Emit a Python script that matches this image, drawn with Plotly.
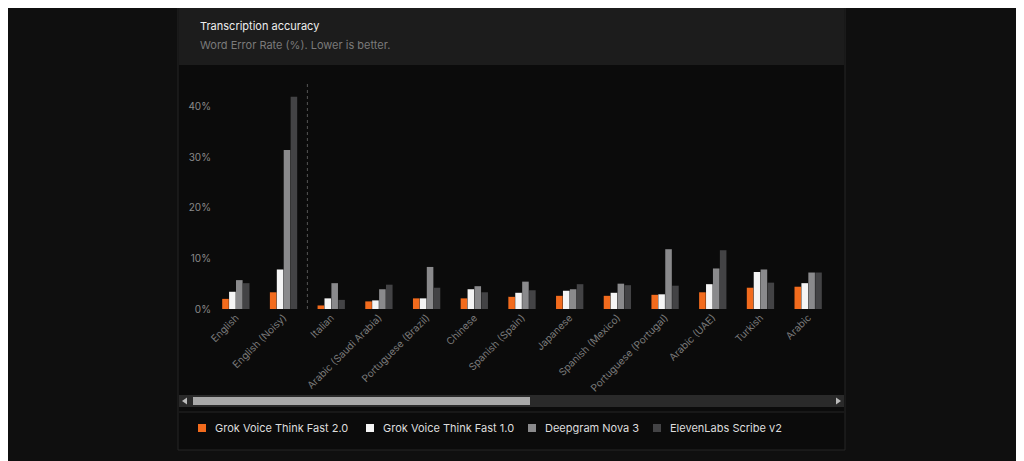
import plotly.graph_objects as go

languages = ["English", "English (Noisy)", "Italian", "Arabic (Saudi Arabia)", "Portuguese (Brazil)",
             "Chinese", "Spanish (Spain)", "Japanese", "Spanish (Mexico)", "Portuguese (Portugal)",
             "Arabic (UAE)", "Turkish", "Arabic"]
grok_fast_2 = [2.0, 3.3, 0.7, 1.5, 2.1, 2.1, 2.4, 2.6, 2.6, 2.8, 3.3, 4.2, 4.4]
grok_fast_1 = [3.4, 7.8, 2.1, 1.7, 2.1, 3.9, 3.2, 3.6, 3.2, 2.9, 4.9, 7.3, 5.1]
deepgram_nova_3 = [5.7, 31.4, 5.1, 3.9, 8.3, 4.5, 5.4, 3.9, 5.0, 11.8, 8.0, 7.8, 7.2]
elevenlabs_v2 = [5.1, 41.9, 1.8, 4.8, 4.2, 3.3, 3.7, 4.9, 4.7, 4.6, 11.6, 5.2, 7.2]
y_ticks = [0, 10, 20, 30, 40]

series = [
    ("Grok Voice Think Fast 2.0", grok_fast_2, "#f26b1d"),
    ("Grok Voice Think Fast 1.0", grok_fast_1, "#f5f5f5"),
    ("Deepgram Nova 3", deepgram_nova_3, "#8a8a8c"),
    ("ElevenLabs Scribe v2", elevenlabs_v2, "#434345"),
]

fig = go.Figure()
for name, vals, color in series:
    fig.add_trace(go.Bar(x=languages, y=vals, name=name, marker_color=color,
                         marker_line_width=0))

# the page has an 8px body margin, so work in window pixels shifted by 8
OFF = 8
W, H = 1024 - OFF, 461 - OFF
L, R, T, B = 212 - OFF, 192, 81 - OFF, 152
pw, ph = W - L - R, H - T - B


def px(x):
    return (x - OFF - L) / pw


def py(y):
    return (H - B - (y - OFF)) / ph


shapes = [
    dict(type="rect", xref="paper", yref="paper", x0=px(178), x1=px(845), y0=py(450), y1=py(5),
         fillcolor="#0b0b0b", line=dict(color="#262626", width=1), layer="below"),
    dict(type="rect", xref="paper", yref="paper", x0=px(179), x1=px(844), y0=py(65), y1=py(6),
         fillcolor="#1c1c1c", line_width=0, layer="below"),
    dict(type="line", xref="paper", yref="paper", x0=px(179), x1=px(844), y0=py(412), y1=py(412),
         line=dict(color="#262626", width=1)),
    dict(type="rect", xref="paper", yref="paper", x0=px(179), x1=px(844), y0=py(407), y1=py(395),
         fillcolor="#2a2a2a", line_width=0),
    dict(type="rect", xref="paper", yref="paper", x0=px(193), x1=px(530), y0=py(405), y1=py(397),
         fillcolor="#a8a8a8", line_width=0),
    dict(type="path", xref="paper", yref="paper",
         path=f"M {px(182)} {py(401)} L {px(187)} {py(397.5)} L {px(187)} {py(404.5)} Z",
         fillcolor="#bbbbbb", line_width=0),
    dict(type="path", xref="paper", yref="paper",
         path=f"M {px(841)} {py(401)} L {px(836)} {py(397.5)} L {px(836)} {py(404.5)} Z",
         fillcolor="#bbbbbb", line_width=0),
    dict(type="line", xref="x", yref="paper", x0=1.5, x1=1.5, y0=0, y1=1,
         line=dict(color="#555555", width=1, dash="dot")),
]

annotations = [
    dict(text="Transcription accuracy", xref="paper", yref="paper", x=px(198), y=py(26),
         xanchor="left", yanchor="middle", showarrow=False, font=dict(size=11, color="#eeeeee")),
    dict(text="Word Error Rate (%). Lower is better.", xref="paper", yref="paper", x=px(198), y=py(45),
         xanchor="left", yanchor="middle", showarrow=False, font=dict(size=11, color="#7a7a7a")),
]

# hand-made legend to get the tight spacing of the original
legend_x = [198, 366, 528, 653]
for (name, _, color), lx in zip(series, legend_x):
    shapes.append(dict(type="rect", xref="paper", yref="paper", x0=px(lx), x1=px(lx + 8),
                       y0=py(432), y1=py(424), fillcolor=color, line_width=0))
    annotations.append(dict(text=name, xref="paper", yref="paper", x=px(lx + 15), y=py(428),
                            xanchor="left", yanchor="middle", showarrow=False,
                            font=dict(size=11, color="#dddddd")))

fig.update_layout(
    width=W, height=H,
    margin=dict(l=L, r=R, t=T, b=B),
    paper_bgcolor="#0f0f0f",
    plot_bgcolor="rgba(0,0,0,0)",
    font=dict(family="Inter, sans-serif", color="#8a8a8a", size=10),
    barmode="group", bargap=0.42, bargroupgap=0.05,
    shapes=shapes, annotations=annotations,
    showlegend=False,
    xaxis=dict(tickangle=-45, showgrid=False, zeroline=False, showline=False,
               tickfont=dict(size=10, color="#7a7a7a")),
    yaxis=dict(range=[0, 45], tickmode="array", tickvals=y_ticks,
               ticktext=[f"{v}%" for v in y_ticks],
               showgrid=False, zeroline=False, tickfont=dict(size=10, color="#8a8a8a")),
)

fig.write_html("out.html")
